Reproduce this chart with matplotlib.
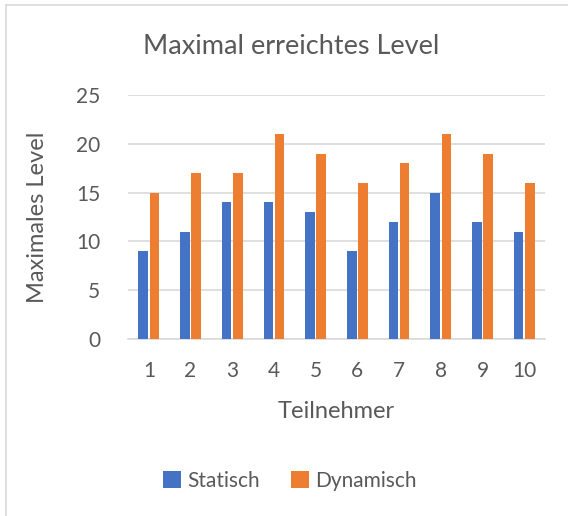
import matplotlib.pyplot as plt
from matplotlib.lines import Line2D
import numpy as np

teilnehmer = ['1', '2', '3', '4', '5', '6', '7', '8', '9', '10']
statisch = [9, 11, 14, 14, 13, 9, 12, 15, 12, 11]
dynamisch = [15, 17, 17, 21, 19, 16, 18, 21, 19, 16]

plt.rcParams['font.family'] = ['Lato', 'DejaVu Sans']
text_col = '#595959'
grid_col = '#d9d9d9'

W, H = 568, 516
fig = plt.figure(figsize=(W / 100, H / 100), dpi=100)
ax = fig.add_axes([128 / W, 1 - 339 / H, (545 - 128) / W, (339 - 95) / H])

x = np.arange(len(teilnehmer))
bw = 0.23
ax.bar(x - bw / 2 - 0.02, statisch, bw, color='#4472C4', label='Statisch', zorder=3)
ax.bar(x + bw / 2 + 0.02, dynamisch, bw, color='#ED7D31', label='Dynamisch', zorder=3)

ax.set_xlim(-0.5, len(teilnehmer) - 0.5)
ax.set_ylim(0, 25)
ax.set_yticks([0, 5, 10, 15, 20, 25])
ax.set_xticks(x)
ax.set_xticklabels(teilnehmer)
ax.yaxis.grid(True, color=grid_col, linewidth=1.2, zorder=0)
for s in ['top', 'right', 'left']:
    ax.spines[s].set_visible(False)
ax.spines['bottom'].set_color(grid_col)
ax.spines['bottom'].set_linewidth(1.2)
ax.tick_params(length=0, labelsize=15, colors=text_col)
ax.tick_params(axis='x', pad=16)
ax.tick_params(axis='y', pad=20)

ax.set_ylabel('Maximales Level', fontsize=17, color=text_col, labelpad=20)
ax.set_xlabel('Teilnehmer', fontsize=17, color=text_col, labelpad=14)
fig.text(291 / W, 1 - 47 / H, 'Maximal erreichtes Level', fontsize=19.5,
         color=text_col, ha='center', va='center')

fig.legend(loc='center', bbox_to_anchor=(290 / W, 1 - 481 / H), ncol=2,
           frameon=False, fontsize=15, labelcolor=text_col, handlelength=0.85,
           handleheight=0.85, handletextpad=0.3, columnspacing=1.5)

fig.add_artist(Line2D([6 / W, 6 / W], [0, 1 - 5 / H], color=grid_col, lw=1.2))
fig.add_artist(Line2D([6 / W, 1], [1 - 5 / H, 1 - 5 / H], color=grid_col, lw=1.2))

fig.savefig('out.png', dpi=100)
